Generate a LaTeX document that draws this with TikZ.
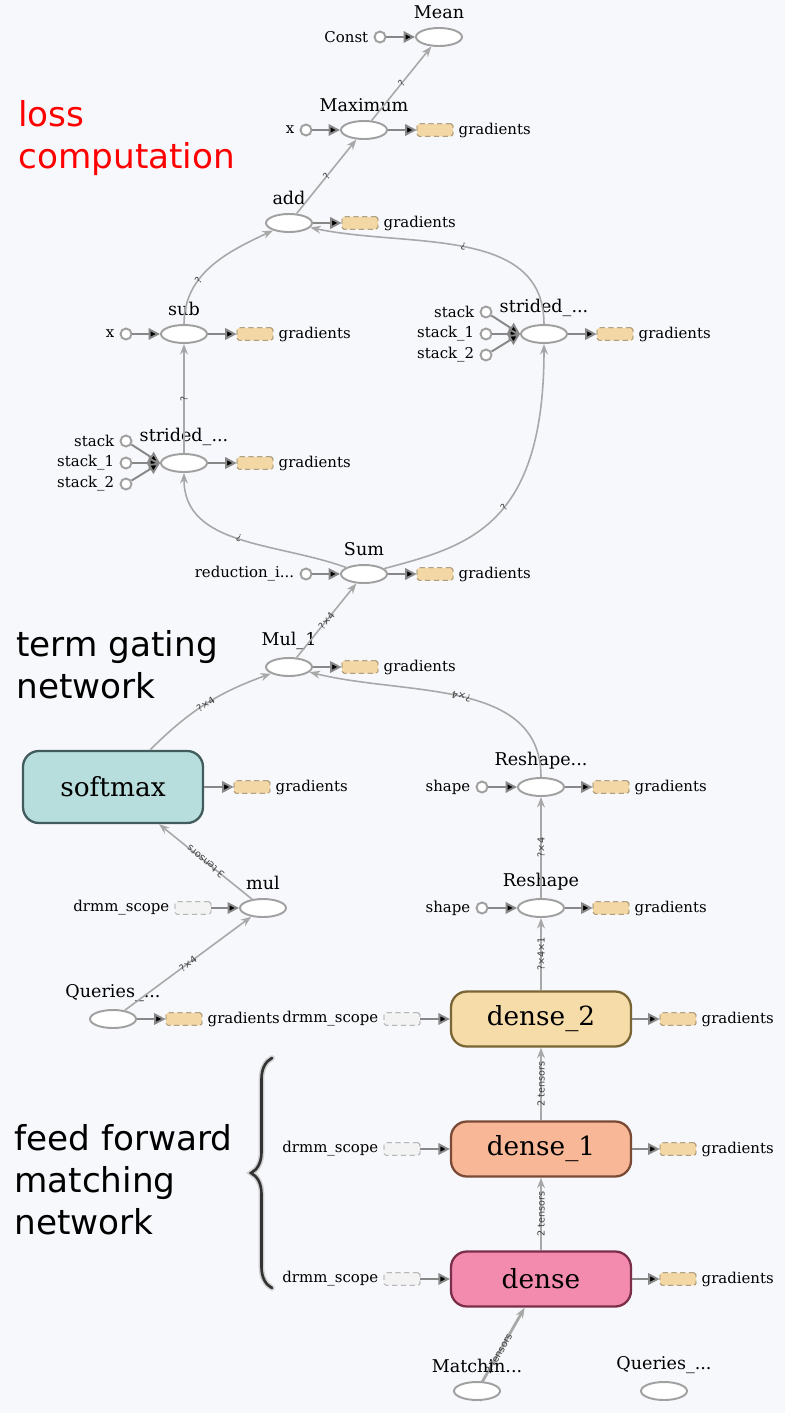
\documentclass[tikz,border=0pt]{standalone}
\usepackage{fontspec}
\setmainfont{DejaVu Serif}
\newfontfamily\notefont{DejaVu Sans}
\usetikzlibrary{arrows.meta,positioning,shapes.geometric,decorations.pathreplacing}
\definecolor{bgcol}{RGB}{247,248,252}
\definecolor{opline}{RGB}{160,160,160}
\definecolor{edgecol}{RGB}{168,168,168}
\definecolor{feedcol}{RGB}{136,136,136}
\definecolor{gradfill}{RGB}{243,216,166}
\definecolor{gradline}{RGB}{140,120,80}
\definecolor{scopefill}{RGB}{243,243,243}
\definecolor{scopeline}{RGB}{150,150,150}
\definecolor{softfill}{RGB}{184,221,221}
\definecolor{softline}{RGB}{64,92,92}
\definecolor{dtwofill}{RGB}{245,220,168}
\definecolor{dtwoline}{RGB}{122,101,53}
\definecolor{donefill}{RGB}{248,183,151}
\definecolor{doneline}{RGB}{122,74,53}
\definecolor{densefill}{RGB}{243,139,175}
\definecolor{denseline}{RGB}{122,46,72}
\tikzset{
    opnode/.style={
    ellipse,draw=opline,fill=white,line width=1.1pt,minimum width=0.92cm,minimum height=0.36cm,inner sep=0pt
    },
    constnode/.style={
    circle,draw=opline,fill=white,line width=1.1pt,minimum size=0.22cm,inner sep=0pt
    },
    gradbox/.style={
    rectangle,rounded corners=1pt,densely dashed,draw=gradline,fill=gradfill,line width=0.4pt,minimum width=0.72cm,minimum height=0.25cm,inner sep=0pt
    },
    scopebox/.style={
    rectangle,rounded corners=1pt,densely dashed,draw=scopeline,fill=scopefill,line width=0.4pt,minimum width=0.72cm,minimum height=0.25cm,inner sep=0pt
    },
    layerbox/.style={
    rectangle,rounded corners=9pt,line width=1.3pt,minimum width=3.6cm,minimum height=1.1cm,font=\fontsize{15}{16}\selectfont
    },
    ttl/.style={
    font=\fontsize{10}{11}\selectfont,inner sep=0pt,label distance=0.15cm
    },
    sidetxt/.style={
    font=\fontsize{8.5}{9}\selectfont,inner sep=0pt,label distance=0.1cm
    },
    flowedge/.style={
    draw=edgecol,line width=0.9pt,-{Stealth[length=6pt,width=4.5pt]}
    },
    feededge/.style={
    draw=feedcol,line width=1.1pt,-{Triangle[length=6.5pt,width=6.5pt]}
    },
    edgelbl/.style={
    sloped,allow upside down,font=\notefont\fontsize{5.5}{6}\selectfont,inner sep=0pt,text=black!75
    },
    notetxt/.style={
    font=\notefont\fontsize{19.5}{23.8}\selectfont,align=left,anchor=base west,inner sep=0pt
    },
}
\begin{document}
\begin{tikzpicture}[x=0.02cm, y=-0.02cm]
   \fill[bgcol] (0,0) rectangle (785,1413);
   \useasboundingbox (0,0) rectangle (785,1413);

   % loss part
   \node[opnode,label={[ttl]above:Mean}] (mean) at (439,37) {};
   \node[constnode,label={[sidetxt]left:Const}] (const) at (380,37) {};
   \node[opnode,label={[ttl]above:Maximum}] (maximum) at (364,130) {};
   \node[constnode,label={[sidetxt]left:x}] (maxx) at (306,130) {};
   \node[gradbox,label={[sidetxt]right:gradients}] (maxgrad) at (435,130) {};
   \node[opnode,label={[ttl]above:add}] (add) at (289,223) {};
   \node[gradbox,label={[sidetxt]right:gradients}] (addgrad) at (360,223) {};
   \node[opnode,label={[ttl]above:sub}] (sub) at (184,334) {};
   \node[constnode,label={[sidetxt]left:x}] (subx) at (126,334) {};
   \node[gradbox,label={[sidetxt]right:gradients}] (subgrad) at (255,334) {};
   \node[opnode,label={[ttl]above:strided\_...}] (stridr) at (544,334) {};
   \node[constnode,label={[sidetxt]left:stack}] (stackra) at (486,312) {};
   \node[constnode,label={[sidetxt]left:stack\_1}] (stackrb) at (486,334) {};
   \node[constnode,label={[sidetxt]left:stack\_2}] (stackrc) at (486,355) {};
   \node[gradbox,label={[sidetxt]right:gradients}] (stridrgrad) at (615,334) {};
   \node[opnode,label={[ttl]above:strided\_...}] (stridl) at (184,463) {};
   \node[constnode,label={[sidetxt]left:stack}] (stackla) at (126,441) {};
   \node[constnode,label={[sidetxt]left:stack\_1}] (stacklb) at (126,463) {};
   \node[constnode,label={[sidetxt]left:stack\_2}] (stacklc) at (126,484) {};
   \node[gradbox,label={[sidetxt]right:gradients}] (stridlgrad) at (255,463) {};
   \node[opnode,label={[ttl]above:Sum}] (sum) at (364,574) {};
   \node[constnode,label={[sidetxt]left:reduction\_i...}] (redidx) at (306,574) {};
   \node[gradbox,label={[sidetxt]right:gradients}] (sumgrad) at (435,574) {};

   % gating part
   \node[opnode,label={[ttl]above:Mul\_1}] (mulone) at (289,667) {};
   \node[gradbox,label={[sidetxt]right:gradients}] (mulonegrad) at (360,667) {};
   \node[layerbox,fill=softfill,draw=softline,minimum height=1.44cm] (softmax) at (113,787) {softmax};
   \node[gradbox,label={[sidetxt]right:gradients}] (softmaxgrad) at (252,787) {};
   \node[opnode,label={[ttl]above:Reshape...}] (reshapeb) at (541,787) {};
   \node[constnode,label={[sidetxt]left:shape}] (shapeb) at (482,787) {};
   \node[gradbox,label={[sidetxt]right:gradients}] (reshapebgrad) at (611,787) {};
   \node[opnode,label={[ttl]above:Reshape}] (reshape) at (541,908) {};
   \node[constnode,label={[sidetxt]left:shape}] (shapea) at (482,908) {};
   \node[gradbox,label={[sidetxt]right:gradients}] (reshapegrad) at (611,908) {};
   \node[opnode,label={[ttl]above:mul}] (mul) at (263,908) {};
   \node[scopebox,label={[sidetxt]left:drmm\_scope}] (mulscope) at (193,908) {};
   \node[opnode,label={[ttl]above:Queries\_...}] (queries) at (113,1019) {};
   \node[gradbox,label={[sidetxt]right:gradients}] (queriesgrad) at (184,1019) {};

   % matching part
   \node[layerbox,fill=dtwofill,draw=dtwoline] (densetwo) at (541,1019) {dense\_2};
   \node[scopebox,label={[sidetxt]left:drmm\_scope}] (densetwoscope) at (402,1019) {};
   \node[gradbox,label={[sidetxt]right:gradients}] (densetwograd) at (678,1019) {};
   \node[layerbox,fill=donefill,draw=doneline] (denseone) at (541,1149) {dense\_1};
   \node[scopebox,label={[sidetxt]left:drmm\_scope}] (denseonescope) at (402,1149) {};
   \node[gradbox,label={[sidetxt]right:gradients}] (denseonegrad) at (678,1149) {};
   \node[layerbox,fill=densefill,draw=denseline] (dense) at (541,1279) {dense};
   \node[scopebox,label={[sidetxt]left:drmm\_scope}] (densescope) at (402,1279) {};
   \node[gradbox,label={[sidetxt]right:gradients}] (densegrad) at (678,1279) {};

   \path[flowedge,line width=1.6pt]
    (477,1391) coordinate (matchfoot)
    (matchfoot) edge node[edgelbl,pos=0.45] {2 tensors} (dense);
   \node[opnode,label={[ttl]above:Matchin...}] (matching) at (477,1391) {};
   \node[opnode,label={[ttl]above:Queries\_...}] (queriesb) at (664,1391) {};

   % notes
   \node[notetxt,text=red] (lossnote) at (18,168) {loss\\computation};
   \node[notetxt] (gatenote) at (16,698) {term gating\\network};
   \node[notetxt] (feednote) at (14,1234) {feed forward\\matching\\network};
   \coordinate (bracelow) at (272,1288);
   \coordinate (bracehigh) at (272,1058);
   \draw[black!18,line width=3.2pt,line cap=round,decorate,decoration={brace,amplitude=0.42cm}] (bracelow) -- (bracehigh);
   \draw[black!80,line width=1.5pt,line cap=round,decorate,decoration={brace,amplitude=0.42cm}] (bracelow) -- (bracehigh);

   % data flow
   \path[flowedge]
    (maximum) edge node[edgelbl] {?} (mean)
    (add) edge node[edgelbl] {?} (maximum)
    (sub) edge[out=90,in=205] node[edgelbl,pos=0.35] {?} (add)
    (stridr) edge[out=90,in=-12] node[edgelbl] {?} (add)
    (stridl) edge node[edgelbl] {?} (sub)
    (sum) edge[out=160,in=-90] node[edgelbl] {?} (stridl)
    (sum) edge[out=15,in=-90,out looseness=0.8,in looseness=1.7] node[edgelbl,pos=0.55] {?} (stridr)
    (mulone) edge node[edgelbl] {?×4} (sum)
    (softmax) edge[out=45,in=200] node[edgelbl] {?×4} (mulone)
    (reshapeb) edge[out=90,in=-14] node[edgelbl] {?×4} (mulone)
    (reshape) edge node[edgelbl] {?×4} (reshapeb)
    (mul) edge node[edgelbl] {3 tensors} (softmax)
    (queries) edge node[edgelbl] {?×4} (mul)
    (densetwo) edge node[edgelbl] {?×4×1} (reshape)
    (denseone) edge node[edgelbl] {2 tensors} (densetwo)
    (dense) edge node[edgelbl] {2 tensors} (denseone);

   % inputs and gradients
   \path[feededge]
    (const) edge (mean)
    (maxx) edge (maximum)
    (maximum) edge (maxgrad)
    (add) edge (addgrad)
    (subx) edge (sub)
    (sub) edge (subgrad)
    (stackra) edge (stridr.west)
    (stackrb) edge (stridr.west)
    (stackrc) edge (stridr.west)
    (stridr) edge (stridrgrad)
    (stackla) edge (stridl.west)
    (stacklb) edge (stridl.west)
    (stacklc) edge (stridl.west)
    (stridl) edge (stridlgrad)
    (redidx) edge (sum)
    (sum) edge (sumgrad)
    (mulone) edge (mulonegrad)
    (softmax) edge (softmaxgrad)
    (shapeb) edge (reshapeb)
    (reshapeb) edge (reshapebgrad)
    (shapea) edge (reshape)
    (reshape) edge (reshapegrad)
    (mulscope) edge (mul)
    (queries) edge (queriesgrad)
    (densetwoscope) edge (densetwo)
    (densetwo) edge (densetwograd)
    (denseonescope) edge (denseone)
    (denseone) edge (denseonegrad)
    (densescope) edge (dense)
    (dense) edge (densegrad);
\end{tikzpicture}
\end{document}
